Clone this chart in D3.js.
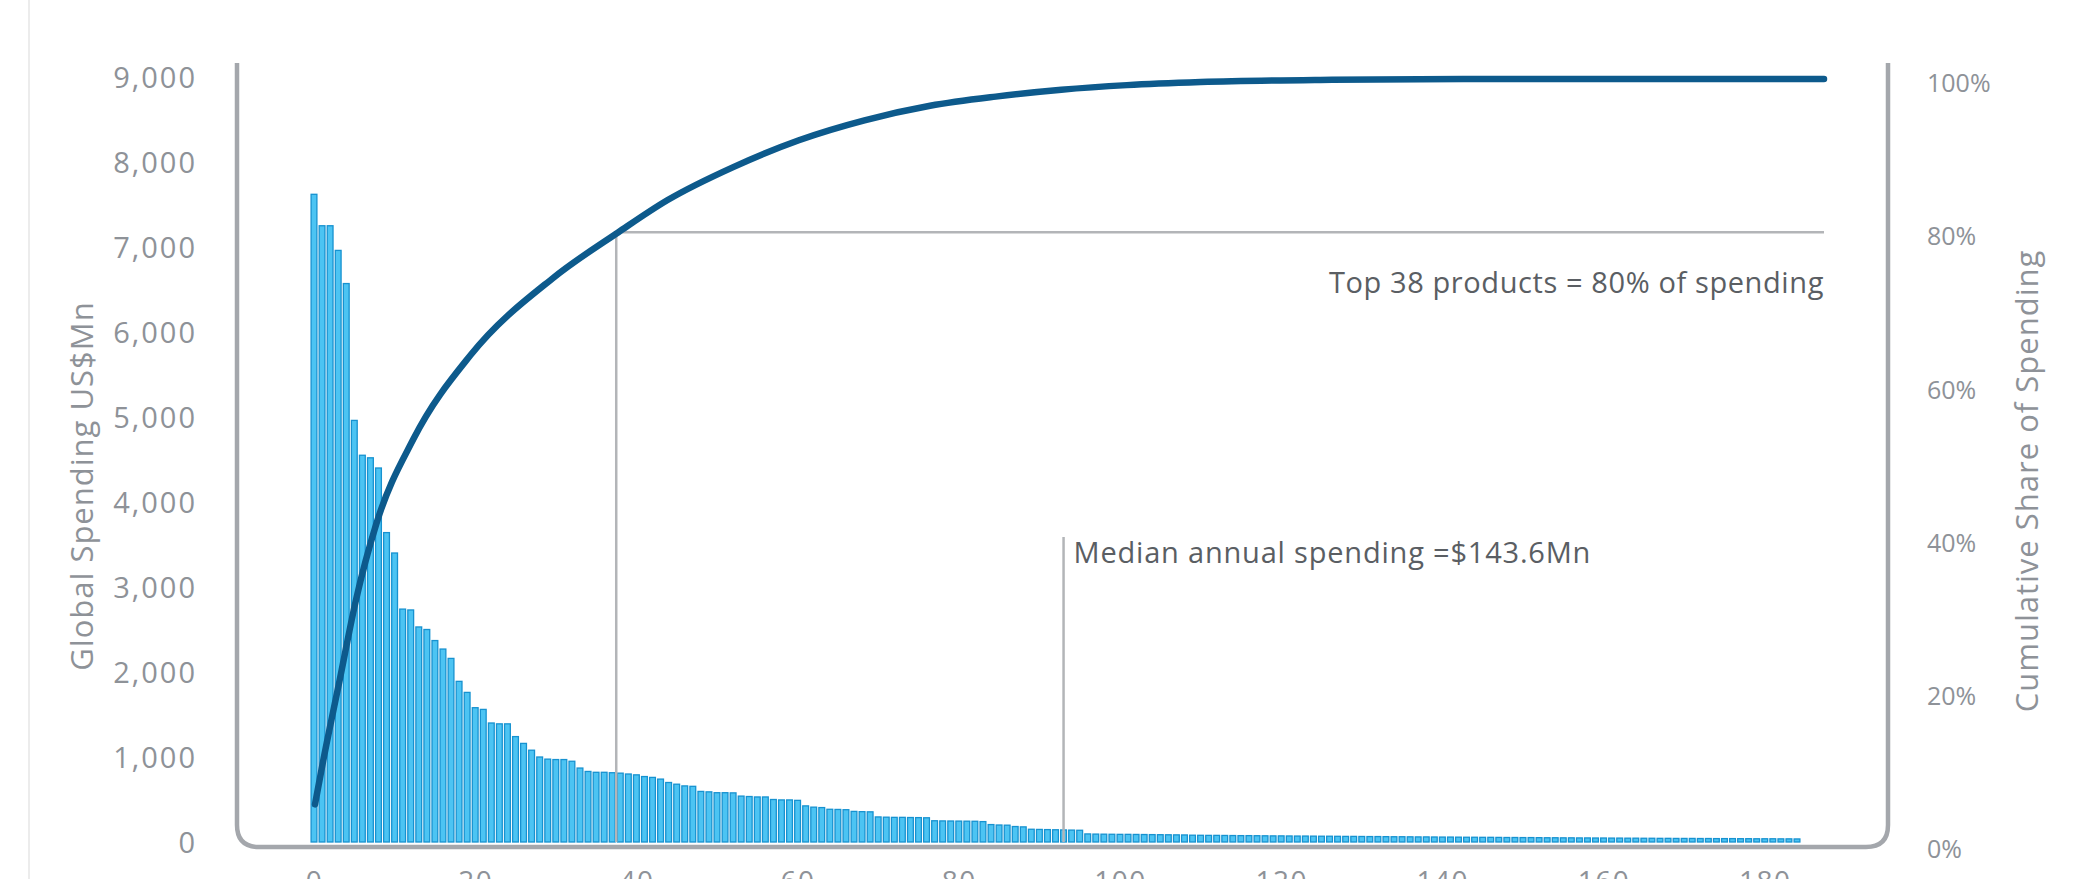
<!DOCTYPE html>
<html><head><meta charset="utf-8">
<script src="https://cdn.jsdelivr.net/npm/d3@7"></script>
<style>
html,body{margin:0;padding:0;background:#fff;}
svg{display:block;font-family:"Open Sans",sans-serif;}
</style></head>
<body><svg id="chart" width="2088" height="879"></svg>
<script>
// ---- data ----
const spending = [
 7620,7250,7250,6960,6570,4960,4550,4520,4400,3640,3400,2740,2730,2530,2500,2370,2270,2160,1890,1760,
 1580,1560,1400,1390,1390,1240,1160,1080,1000,975,970,970,950,870,830,820,820,815,
 810,800,790,770,760,740,700,680,
 660,655,595,590,580,580,578,540,535,530,530,500,495,495,490,425,410,405,385,383,380,360,357,355,
 295,292,290,290,288,287,285,250,248,247,246,245,244,240,205,200,198,182,178,
 150,148,146,144,142,140,138,
 95,93,92,91,90,90,89,88,87,86,85,84,83,
 80,79,78,78,77,76,75,75,74,73,72,72,71,70,70,69,68,68,67,66,
 66,65,64,64,63,62,62,61,60,60,59,58,58,57,56,56,55,55,54,53,
 53,52,52,51,50,50,49,49,48,48,47,47,46,46,45,45,44,44,43,43,
 42,42,42,41,41,40,40,40,39,39,38,38,38,37,37,36
];
const cumRank  = [1, 2, 4, 6, 8.5, 13, 20, 30, 38, 44, 52, 60, 68, 76, 84, 92, 100, 109, 125, 141, 185];
const cumShare = [0.053,0.11,0.215,0.32,0.42,0.53,0.64,0.74,0.80,0.842,0.885,0.92,0.946,0.965,0.977,0.986,0.992,0.996,0.999,1.0,1.0];
const leftTicks  = [0,1000,2000,3000,4000,5000,6000,7000,8000,9000];
const rightTicks = [0,0.2,0.4,0.6,0.8,1.0];
const xTicks     = [0,20,40,60,80,100,120,140,160,180];
const topN = 38;
const medianIndex = 93;
const topLabel = "Top 38 products = 80% of spending";
const medianLabel = "Median annual spending =$143.6Mn";
const leftTitle = "Global Spending US$Mn";
const rightTitle = "Cumulative Share of Spending";

// ---- layout ----
const svg = d3.select("#chart");
const N = spending.length;
const xBar = d3.scaleLinear().domain([0, N - 1]).range([314, 1797]);
const xLine = d3.scaleLinear().domain([1, N]).range([315, 1824]);
const yL = d3.scaleLinear().domain([0, 9000]).range([842, 77]);
const yR = d3.scaleLinear().domain([0, 1]).range([845, 79]);

svg.append("rect").attr("width",2088).attr("height",879).attr("fill","#fff");
// faint outer border
svg.append("line").attr("x1",29).attr("x2",29).attr("y1",0).attr("y2",879)
  .attr("stroke","#ececec").attr("stroke-width",2);

const grey = "#8e9298";

// bars
const bw = 5.8;
svg.append("g").selectAll("rect").data(spending).join("rect")
  .attr("x",(d,i)=>xBar(i)-bw/2)
  .attr("y",d=>yL(d))
  .attr("width",bw)
  .attr("height",d=>yL(0)-yL(d))
  .attr("fill","#4cc4f3")
  .attr("stroke","#1792d0")
  .attr("stroke-width",1.3);

// frame
svg.append("path")
  .attr("d",`M237,63 V825 Q237,847 259,847 H1866 Q1888,847 1888,825 V63`)
  .attr("fill","none").attr("stroke","#a4a7ac").attr("stroke-width",4.5);

// annotation lines
const ann = "#b3b5b8";
const xTop = xBar(topN - 0.5);
svg.append("path")
  .attr("d",`M${xTop},${yL(0)} V${yR(0.8)} H${xLine(N)}`)
  .attr("fill","none").attr("stroke",ann).attr("stroke-width",2.5);
svg.append("line")
  .attr("x1",xBar(medianIndex)).attr("x2",xBar(medianIndex))
  .attr("y1",yL(0)).attr("y2",537)
  .attr("stroke",ann).attr("stroke-width",2.5);

// cumulative line
const pts = cumRank.map((r,i)=>[xLine(r), yR(cumShare[i])]);
svg.append("path")
  .attr("d", d3.line().curve(d3.curveMonotoneX)(pts))
  .attr("fill","none").attr("stroke","#0d5a8c").attr("stroke-width",6.5)
  .attr("stroke-linecap","round");

// left axis labels
const lAxis = svg.append("g").attr("transform","translate(197,0)")
  .call(d3.axisLeft(yL).tickValues(leftTicks).tickFormat(d3.format(",")).tickSize(0).tickPadding(0));
lAxis.select(".domain").remove();
lAxis.selectAll("text").attr("fill",grey).attr("font-size",29).attr("letter-spacing",2)
  .attr("font-family","Open Sans").attr("dy","0.35em");

// right axis labels
const rAxis = svg.append("g").attr("transform","translate(1927,4)")
  .call(d3.axisRight(yR).tickValues(rightTicks).tickFormat(d3.format(".0%")).tickSize(0).tickPadding(0));
rAxis.select(".domain").remove();
rAxis.selectAll("text").attr("fill",grey).attr("font-size",25).attr("font-family","Open Sans").attr("dy","0.35em");

// bottom axis labels (cut by the page edge, as in the reference)
const bAxis = svg.append("g").attr("transform","translate(0,871)")
  .call(d3.axisBottom(xBar).tickValues(xTicks).tickFormat(d3.format("d")).tickSize(0).tickPadding(0));
bAxis.select(".domain").remove();
bAxis.selectAll("text").attr("fill",grey).attr("font-size",28).attr("letter-spacing",1.5)
  .attr("font-family","Open Sans").attr("dy","0.71em");

// axis titles
svg.append("text").attr("transform","translate(93,486) rotate(-90)")
  .attr("text-anchor","middle").attr("fill",grey).attr("font-size",31).attr("letter-spacing",1)
  .text(leftTitle);
svg.append("text").attr("transform","translate(2038,481) rotate(-90)")
  .attr("text-anchor","middle").attr("fill",grey).attr("font-size",31).attr("letter-spacing",1)
  .text(rightTitle);

// annotation texts
svg.append("text").attr("x",xLine(N)).attr("y",293).attr("text-anchor","end")
  .attr("fill","#5a5e63").attr("font-size",29).attr("letter-spacing",0.6).text(topLabel);
svg.append("text").attr("x",xBar(medianIndex)+10).attr("y",563)
  .attr("fill","#5a5e63").attr("font-size",29).attr("letter-spacing",0.8).text(medianLabel);
</script>
</body></html>
